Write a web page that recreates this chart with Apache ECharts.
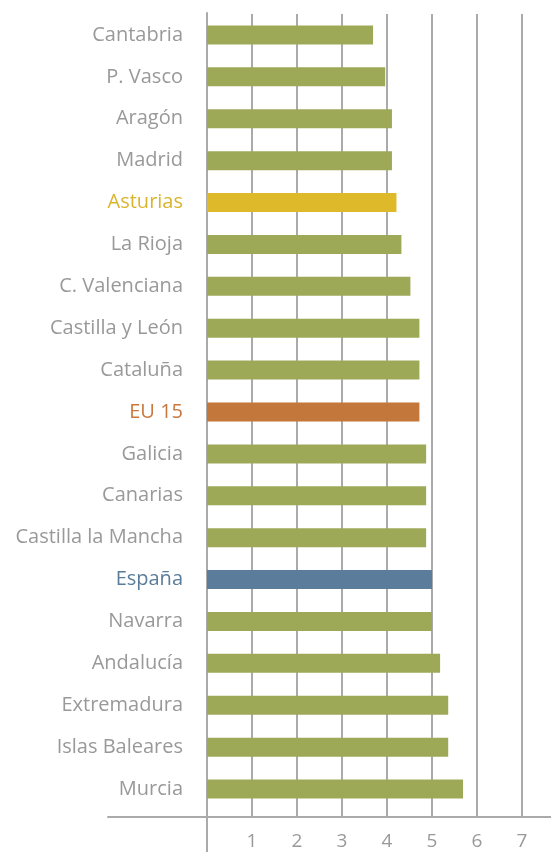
<!DOCTYPE html>
<html>
<head>
<meta charset="utf-8">
<title>Regiones</title>
<script src="https://cdn.jsdelivr.net/npm/echarts@6/dist/echarts.min.js"></script>
<style>
  html, body { margin: 0; padding: 0; background: #fff; }
  #chart { width: 551px; height: 852px; }
</style>
</head>
<body>
<div id="chart"></div>
<script>
// categorías de arriba a abajo
const regions = [
  'Cantabria', 'P. Vasco', 'Aragón', 'Madrid', 'Asturias', 'La Rioja',
  'C. Valenciana', 'Castilla y León', 'Cataluña', 'EU 15', 'Galicia',
  'Canarias', 'Castilla la Mancha', 'España', 'Navarra', 'Andalucía',
  'Extremadura', 'Islas Baleares', 'Murcia',
]
const values = [
  3.69, 3.96, 4.11, 4.11, 4.21, 4.32,
  4.52, 4.72, 4.72, 4.72, 4.87,
  4.87, 4.87, 5.0, 5.0, 5.18,
  5.36, 5.36, 5.69,
]
const xTicks = [0, 1, 2, 3, 4, 5, 6, 7]

// destacados
const highlight = {
  'Asturias': { bar: '#deb92a', text: '#d9b52f' },
  'EU 15': { bar: '#c4773b', text: '#c8783d' },
  'España': { bar: '#5b7c9a', text: '#5a7c9b' },
}
const barGreen = '#9ea958'
const textGray = '#999999'
const lineGray = '#aaaaab'
const font = '"Open Sans", sans-serif'

const chart = echarts.init(document.getElementById('chart'))

chart.setOption({
  animation: false,
  grid: [
    { left: 207, right: 29, top: 14, bottom: 42 },
    // línea base larga
    { left: 108, right: 0, top: 14, bottom: 35 },
    // línea del cero hasta abajo
    { left: 207, width: 10, top: 13, bottom: 0 },
  ],
  xAxis: [
    {
      gridIndex: 0,
      type: 'value',
      min: xTicks[0],
      max: xTicks[xTicks.length - 1],
      interval: 1,
      offset: 7,
      axisLine: { show: false },
      axisTick: { show: true, inside: true, length: 7, lineStyle: { color: lineGray, width: 2 } },
      splitLine: { show: true, lineStyle: { color: lineGray, width: 2 } },
      axisLabel: {
        color: textGray,
        fontSize: 19,
        fontFamily: font,
        margin: 15,
        formatter: (v) => (v === 0 ? '' : String(v)),
      },
    },
    {
      gridIndex: 1,
      type: 'value',
      axisLine: { show: true, onZero: false, lineStyle: { color: lineGray, width: 2 } },
      axisTick: { show: false },
      axisLabel: { show: false },
      splitLine: { show: false },
    },
    { gridIndex: 2, type: 'value', show: false },
  ],
  yAxis: [
    {
      gridIndex: 0,
      type: 'category',
      inverse: true,
      data: regions.map((r) => ({
        value: r,
        textStyle: { color: highlight[r] ? highlight[r].text : textGray },
      })),
      axisLine: { show: false },
      axisTick: { show: false },
      axisLabel: { fontSize: 20, fontFamily: font, margin: 24, padding: [3, 0, 0, 0] },
    },
    { gridIndex: 1, type: 'value', show: false },
    {
      gridIndex: 2,
      type: 'value',
      axisLine: { show: true, onZero: false, lineStyle: { color: lineGray, width: 2 } },
      axisTick: { show: false },
      axisLabel: { show: false },
      splitLine: { show: false },
    },
  ],
  series: [{
    type: 'bar',
    xAxisIndex: 0,
    yAxisIndex: 0,
    barWidth: 19,
    data: values.map((v, i) => ({
      value: v,
      itemStyle: { color: highlight[regions[i]] ? highlight[regions[i]].bar : barGreen },
    })),
  }],
})
</script>
</body>
</html>
